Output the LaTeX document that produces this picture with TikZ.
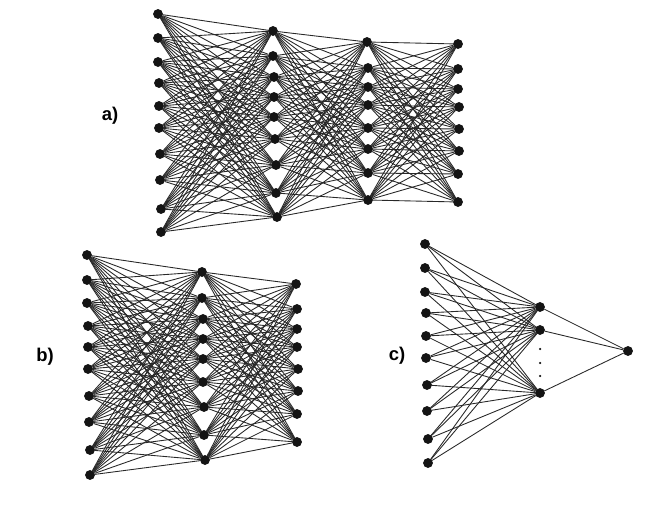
\documentclass[tikz,border=0pt]{standalone}
\usepackage{fontspec}
\setmainfont{Liberation Sans}
\usepackage{tikz}
\usetikzlibrary{positioning}
\definecolor{mydark}{RGB}{20,20,20}
\definecolor{mylink}{RGB}{40,40,40}
\tikzset{
  neuron/.style={circle, draw=mydark, fill=mydark, inner sep=0pt,
    minimum size=0.18cm},
  smalldot/.style={circle, fill=mydark, inner sep=0pt, minimum size=0.05cm},
  link/.style={color=mylink, line width=0.5pt},
  tag/.style={font=\bfseries\fontsize{10.5}{12}\selectfont}
}

\begin{document}
\begin{tikzpicture}[x=0.02cm, y=-0.02cm]
  \useasboundingbox (0,0) rectangle (650,517);

  % a) four layers
  \foreach \x/\y [count=\i] in {158/14,158/38,158/62,159/83,159/106,159/128,160/154,160/180,161/209,161/232}
    \node[neuron] (a1-\i) at (\x,\y) {};
  \foreach \x/\y [count=\i] in {273/31,273/56,274/77,274/97,274/117,275/139,276/165,276/193,277/217}
    \node[neuron] (a2-\i) at (\x,\y) {};
  \foreach \x/\y [count=\i] in {367/42,368/68,368/87,368/105,368/128,368/149,368/173,368/200}
    \node[neuron] (a3-\i) at (\x,\y) {};
  \foreach \x/\y [count=\i] in {458/44,458/69,458/89,459/107,459/129,459/151,458/174,458/202}
    \node[neuron] (a4-\i) at (\x,\y) {};
  \foreach \i in {1,...,10}
    \foreach \j in {1,...,9}
      \draw[link] (a1-\i) -- (a2-\j);
  \foreach \i in {1,...,9}
    \foreach \j in {1,...,8}
      \draw[link] (a2-\i) -- (a3-\j);
  \foreach \i in {1,...,8}
    \foreach \j in {1,...,8}
      \draw[link] (a3-\i) -- (a4-\j);
  \node[tag] (la) at (110,116) {a)};

  % b) three layers
  \foreach \x/\y [count=\i] in {87/255,87/280,87/303,88/326,88/347,88/369,89/396,89/422,90/450,90/475}
    \node[neuron] (b1-\i) at (\x,\y) {};
  \foreach \x/\y [count=\i] in {202/272,202/298,203/319,203/339,203/359,203/382,204/407,204/435,205/460}
    \node[neuron] (b2-\i) at (\x,\y) {};
  \foreach \x/\y [count=\i] in {296/284,297/309,297/329,297/347,298/369,298/391,297/414,297/442}
    \node[neuron] (b3-\i) at (\x,\y) {};
  \foreach \i in {1,...,10}
    \foreach \j in {1,...,9}
      \draw[link] (b1-\i) -- (b2-\j);
  \foreach \i in {1,...,9}
    \foreach \j in {1,...,8}
      \draw[link] (b2-\i) -- (b3-\j);
  \node[tag] (lb) at (45,357) {b)};

  % c) one hidden layer, one output
  \foreach \x/\y [count=\i] in {425/244,425/268,425/292,426/313,426/336,426/358,427/385,427/411,428/439,428/463}
    \node[neuron] (c1-\i) at (\x,\y) {};
  \foreach \y [count=\i] in {307,330,393}
    \node[neuron] (c2-\i) at (540,\y) {};
  \node[neuron] (out) at (628,351) {};
  \foreach \y [count=\i] in {349,363,376}
    \node[smalldot] (dot-\i) at (540,\y) {};
  \foreach \i in {1,...,10}
    \foreach \j in {1,...,3}
      \draw[link] (c1-\i) -- (c2-\j);
  \foreach \j in {1,...,3}
    \draw[link] (c2-\j) -- (out);
  \node[tag] (lc) at (397,356) {c)};
\end{tikzpicture}
\end{document}
